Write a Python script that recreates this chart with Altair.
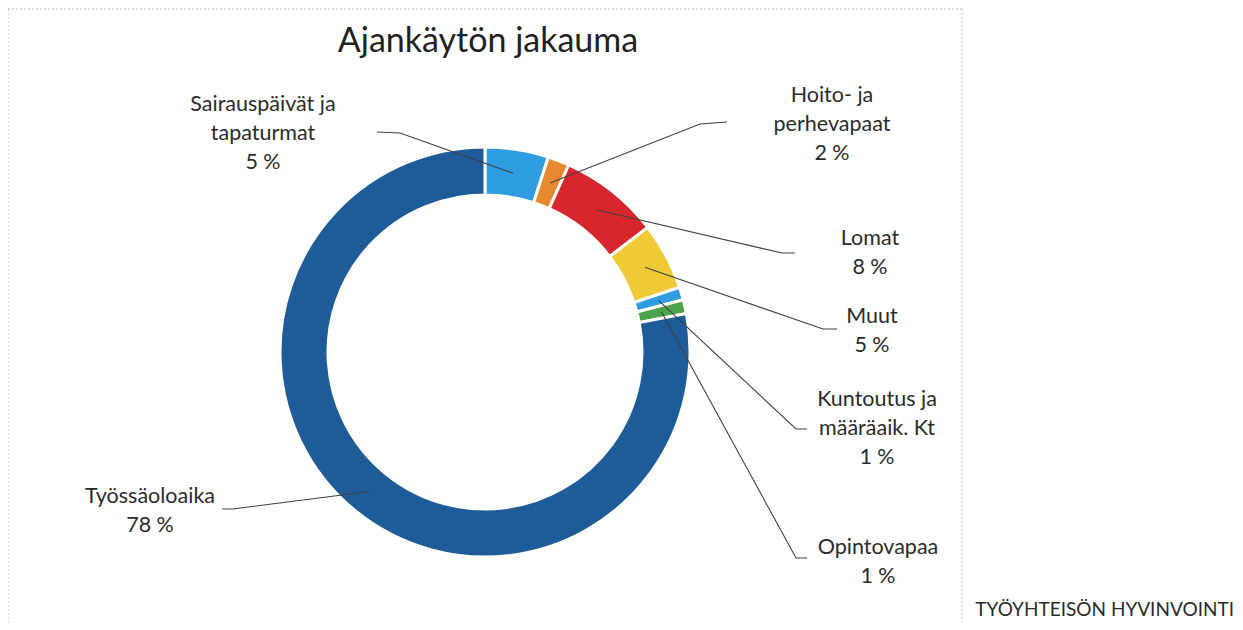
import altair as alt
import pandas as pd
import numpy as np

# ---- data ----
categories = ["Sairauspäivät ja tapaturmat", "Hoito- ja perhevapaat", "Lomat", "Muut",
              "Kuntoutus ja määräaik. Kt", "Opintovapaa", "Työssäoloaika"]
values = [5.0, 1.7, 7.9, 5.3, 1.0, 1.1, 78.0]
colors = ["#2E9DE2", "#E6892F", "#D8272C", "#EFC936", "#2E9DE2", "#4DA24C", "#1E5C99"]
label_lines = [["Sairauspäivät ja", "tapaturmat"], ["Hoito- ja", "perhevapaat"], ["Lomat"], ["Muut"],
               ["Kuntoutus ja", "määräaik. Kt"], ["Opintovapaa"], ["Työssäoloaika"]]
title_text = "Ajankäytön jakauma"
footer_text = "TYÖYHTEISÖN HYVINVOINTI"

# ---- layout (page pixels) ----
W, H = 1227, 614
CX, CY = 485, 352
R_OUT, R_IN = 205, 157
R_MID = (R_OUT + R_IN) / 2
LINE_H = 29
label_x = [263, 832, 870, 872, 877, 878, 150]
label_y = [105, 96, 239, 317, 400, 548, 497]
elbow_a = [(400, 133), (700, 124), (782, 253), (823, 329), (796, 429), (796, 558), (233, 509)]
elbow_b = [(377, 132), (727, 122), (795, 253), (837, 329), (807, 429), (807, 558), (222, 509)]

FONT = "Lato"

arc_df = pd.DataFrame({"cat": categories, "value": values, "idx": range(len(values))})

# leader lines: from the middle of each slice to the label
total = sum(values)
cum = np.cumsum([0] + values[:-1])
line_rows = []
for i, c in enumerate(categories):
    ang = 2 * np.pi * (cum[i] + values[i] / 2) / total
    sx = CX + R_MID * np.sin(ang)
    sy = CY - R_MID * np.cos(ang)
    pts = [(sx, sy), elbow_a[i], elbow_b[i]]
    for k, (px, py) in enumerate(pts):
        line_rows.append({"cat": c, "k": k, "x": px, "y": py})
line_df = pd.DataFrame(line_rows)

text_rows = []
for i, c in enumerate(categories):
    lines = label_lines[i] + [f"{round(values[i])} %"]
    for j, t in enumerate(lines):
        text_rows.append({"cat": c, "t": t, "x": label_x[i], "y": label_y[i] + j * LINE_H})
text_df = pd.DataFrame(text_rows)

xs = alt.Scale(domain=[8, 8 + W], nice=False, zero=False)
ys = alt.Scale(domain=[8, 8 + H], nice=False, zero=False, reverse=True)

# dashed frame of the scanned chart area (decoration)
rule_style = dict(stroke="#b8b8b8", strokeWidth=1, strokeDash=[2, 2])
one = pd.DataFrame({"a": [0]})
frame_top = alt.Chart(one).mark_rule(**rule_style).encode(
    x=alt.value(0), x2=alt.value(954), y=alt.value(1))
frame_left = alt.Chart(one).mark_rule(**rule_style).encode(
    x=alt.value(0), y=alt.value(1), y2=alt.value(H))
frame_right = alt.Chart(one).mark_rule(**rule_style).encode(
    x=alt.value(954), y=alt.value(1), y2=alt.value(H))

donut = alt.Chart(arc_df).mark_arc(
    outerRadius=R_OUT, innerRadius=R_IN, stroke="white", strokeWidth=3
).encode(
    theta=alt.Theta("value:Q", stack=True),
    order=alt.Order("idx:Q"),
    color=alt.Color("cat:N", scale=alt.Scale(domain=categories, range=colors), legend=None),
    x=alt.value(CX - 8),
    y=alt.value(CY - 8),
)

leaders = alt.Chart(line_df).mark_line(color="#404040", strokeWidth=1.1).encode(
    x=alt.X("x:Q", scale=xs, axis=None),
    y=alt.Y("y:Q", scale=ys, axis=None),
    detail="cat:N",
    order="k:Q",
)

labels = alt.Chart(text_df).mark_text(
    font=FONT, fontSize=21.5, color="#2b2b2b", align="center", baseline="middle"
).encode(
    x=alt.X("x:Q", scale=xs, axis=None),
    y=alt.Y("y:Q", scale=ys, axis=None),
    text="t:N",
)

title = alt.Chart(pd.DataFrame({"t": [title_text]})).mark_text(
    font=FONT, fontSize=34, color="#222222", align="center", baseline="middle"
).encode(x=alt.value(488 - 8), y=alt.value(42 - 8), text="t:N")

footer = alt.Chart(pd.DataFrame({"t": [footer_text]})).mark_text(
    font=FONT, fontSize=19, color="#2b2b2b", align="right", baseline="middle"
).encode(x=alt.value(1234 - 8), y=alt.value(610 - 8), text="t:N")

chart = alt.layer(frame_top, frame_left, frame_right, donut, leaders, labels, title, footer).properties(
    width=W, height=H,
    autosize=alt.AutoSizeParams(type="none"),
    padding=0,
    background="white",
).configure_view(stroke=None, strokeWidth=0)

chart.save("out.html", embed_options={"renderer": "svg", "actions": False})
